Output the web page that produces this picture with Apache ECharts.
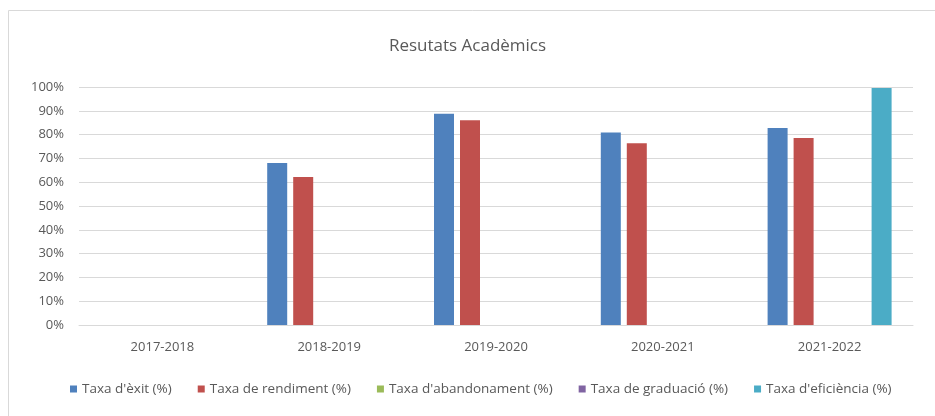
<!DOCTYPE html>
<html>
<head>
<meta charset="utf-8">
<script src="https://cdn.jsdelivr.net/npm/echarts@6/dist/echarts.min.js"></script>
<style>
  html, body { margin: 0; padding: 0; background: #fff; }
  #chart { width: 935px; height: 416px; }
</style>
</head>
<body>
<div id="chart"></div>
<script>
// Academic years on the category axis
const years = ['2017-2018', '2018-2019', '2019-2020', '2020-2021', '2021-2022'];

// Rates per year (%); null where no value is reported
const taxaExit         = [null, 68.1, 88.8, 80.9, 82.8];
const taxaRendiment    = [null, 62.2, 86.0, 76.4, 78.6];
const taxaAbandonament = [null, null, null, null, null];
const taxaGraduacio    = [null, null, null, null, null];
const taxaEficiencia   = [null, null, null, null, 99.6];

const seriesNames = [
  "Taxa d'èxit (%)",
  "Taxa de rendiment (%)",
  "Taxa d'abandonament (%)",
  "Taxa de graduació (%)",
  "Taxa d'eficiència (%)"
];
const seriesColors = ['#4f81bd', '#c0504d', '#9bbb59', '#8064a2', '#4bacc6'];
const seriesData = [taxaExit, taxaRendiment, taxaAbandonament, taxaGraduacio, taxaEficiencia];

const font = "'Open Sans', 'Liberation Sans', sans-serif";
const chart = echarts.init(document.getElementById('chart'));

chart.setOption({
  animation: false,
  textStyle: { fontFamily: font },
  graphic: [{
    type: 'rect',
    shape: { x: 8.5, y: 10.5, width: 940, height: 420 },
    style: { fill: 'none', stroke: '#d9d9d9', lineWidth: 1 },
    silent: true
  }],
  title: {
    text: 'Resutats Acadèmics',
    left: 'center',
    top: 33,
    textStyle: { fontFamily: font, fontSize: 17, fontWeight: 'normal', color: '#595959' }
  },
  legend: {
    bottom: 15,
    left: 65,
    itemWidth: 7,
    itemHeight: 7,
    itemGap: 26,
    icon: 'rect',
    textStyle: { fontFamily: font, fontSize: 13.5, color: '#595959' },
    data: seriesNames
  },
  grid: { left: 79, right: 22, top: 87, bottom: 91, containLabel: false },
  xAxis: {
    type: 'category',
    data: years,
    axisLine: { lineStyle: { color: '#d9d9d9', width: 1 } },
    axisTick: { show: false },
    axisLabel: { fontFamily: font, fontSize: 13, color: '#595959', margin: 16 }
  },
  yAxis: {
    type: 'value',
    min: 0,
    max: 100,
    interval: 10,
    axisLine: { show: false },
    axisTick: { show: false },
    axisLabel: { fontFamily: font, fontSize: 13, color: '#595959', margin: 15, formatter: '{value}%' },
    splitLine: { lineStyle: { color: '#d9d9d9', width: 1 } }
  },
  series: seriesNames.map((name, i) => ({
    name,
    type: 'bar',
    data: seriesData[i],
    barWidth: 20,
    barGap: '30%',
    itemStyle: { color: seriesColors[i] }
  }))
});
</script>
</body>
</html>
